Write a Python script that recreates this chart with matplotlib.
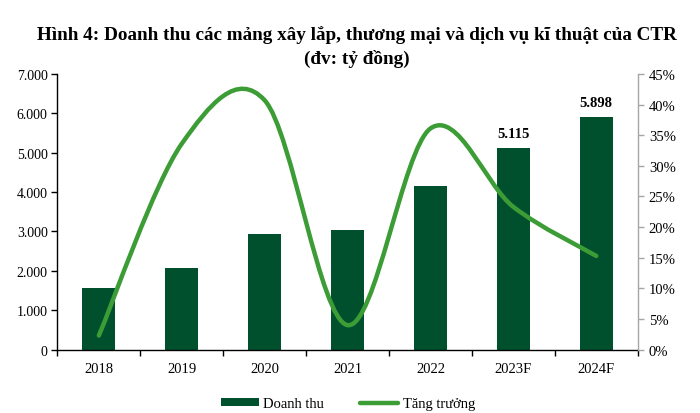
import matplotlib
matplotlib.use("Agg")
import matplotlib.pyplot as plt
from matplotlib.path import Path
from matplotlib.patches import PathPatch, Patch
from matplotlib.lines import Line2D
from matplotlib.ticker import FuncFormatter, FixedLocator

# ---- data ----
categories = ["2018", "2019", "2020", "2021", "2022", "2023F", "2024F"]
revenue = [1558, 2081, 2929, 3046, 4147, 5115, 5898]
growth = [0.023, 0.336, 0.407, 0.040, 0.361, 0.233, 0.153]
labelled = {"2023F": "5.115", "2024F": "5.898"}
left_ticks = [0, 1000, 2000, 3000, 4000, 5000, 6000, 7000]
right_ticks = [0, 0.05, 0.10, 0.15, 0.20, 0.25, 0.30, 0.35, 0.40, 0.45]
title_lines = ["Hình 4: Doanh thu các mảng xây lắp, thương mại và dịch vụ kĩ thuật của CTR",
               "(đv: tỷ đồng)"]
legend_labels = ["Doanh thu", "Tăng trưởng"]

BAR = "#00502E"
LINE = "#3C9C35"
GRAY = "#A6A6A6"

plt.rcParams["font.family"] = ["Liberation Serif", "DejaVu Serif"]

fig = plt.figure(figsize=(7.0, 4.14), dpi=100)
ax = fig.add_axes([0.082, 0.153, 0.829, 0.666])
ax2 = ax.twinx()

x = list(range(len(categories)))
ax.bar(x, revenue, width=0.4, color=BAR, zorder=2)
ax.set_xlim(-0.5, len(categories) - 0.5)
ax.set_ylim(0, 7000)

def thou(v, pos):
    return f"{int(round(v)):,}".replace(",", ".")

ax.yaxis.set_major_locator(FixedLocator(left_ticks))
ax.yaxis.set_major_formatter(FuncFormatter(thou))

ax.set_xticks(x)
ax.set_xticklabels(categories, fontsize=10.5)
ax.tick_params(axis="x", which="major", length=0, pad=9)
ax.set_xticks([i - 0.5 for i in range(len(categories) + 1)], minor=True)
ax.tick_params(axis="x", which="minor", length=4, width=1, color="black", direction="out")
ax.tick_params(axis="y", length=4, width=1, direction="out", labelsize=10, pad=3)

for s in ["top", "right"]:
    ax.spines[s].set_visible(False)
ax.spines["left"].set_color("black")
ax.spines["bottom"].set_color("black")
ax.spines["left"].set_linewidth(1)
ax.spines["bottom"].set_linewidth(1)

for xi, cat, v in zip(x, categories, revenue):
    if cat in labelled:
        ax.annotate(labelled[cat], (xi, v), xytext=(0, 6), textcoords="offset points",
                    ha="center", va="bottom", fontsize=10.5, fontweight="bold")

ax2.set_ylim(0, 0.45)
ax2.yaxis.set_major_locator(FixedLocator(right_ticks))
ax2.yaxis.set_major_formatter(FuncFormatter(lambda v, p: f"{int(round(v * 100))}%"))
ax2.tick_params(axis="y", length=4, width=1, color=GRAY, direction="out", labelsize=10.5, pad=4)
for s in ["top", "left", "bottom"]:
    ax2.spines[s].set_visible(False)
ax2.spines["right"].set_color(GRAY)
ax2.spines["right"].set_linewidth(1)

# smoothed growth line (Catmull-Rom style Bezier through the data points)
pts = list(zip(x, growth))
n = len(pts)
verts = [pts[0]]
codes = [Path.MOVETO]
for i in range(n - 1):
    p0 = pts[i - 1] if i > 0 else pts[i]
    p1 = pts[i]
    p2 = pts[i + 1]
    p3 = pts[i + 2] if i + 2 < n else pts[i + 1]
    c1 = (p1[0] + (p2[0] - p0[0]) / 6, p1[1] + (p2[1] - p0[1]) / 6)
    c2 = (p2[0] - (p3[0] - p1[0]) / 6, p2[1] - (p3[1] - p1[1]) / 6)
    verts += [c1, c2, p2]
    codes += [Path.CURVE4] * 3
patch = PathPatch(Path(verts, codes), fill=False, edgecolor=LINE, lw=3.2,
                  capstyle="round", joinstyle="round", zorder=3)
ax2.add_patch(patch)

# title (two centred lines)
fig.text(0.51, 1 - 35 / 414, title_lines[0], ha="center", va="center", fontsize=13.8,
         fontweight="bold")
fig.text(0.51, 1 - 59 / 414, title_lines[1], ha="center", va="center", fontsize=13.8,
         fontweight="bold")

handles = [Patch(facecolor=BAR, edgecolor="none"),
           Line2D([0], [0], color=LINE, lw=3.2, solid_capstyle="round")]
fig.legend(handles, legend_labels, loc="center", bbox_to_anchor=(0.497, 0.022),
           ncol=2, frameon=False, fontsize=10.5, handlelength=2.6, handleheight=0.5,
           handletextpad=0.3, columnspacing=2.5)

fig.savefig("out.png", dpi=100)
